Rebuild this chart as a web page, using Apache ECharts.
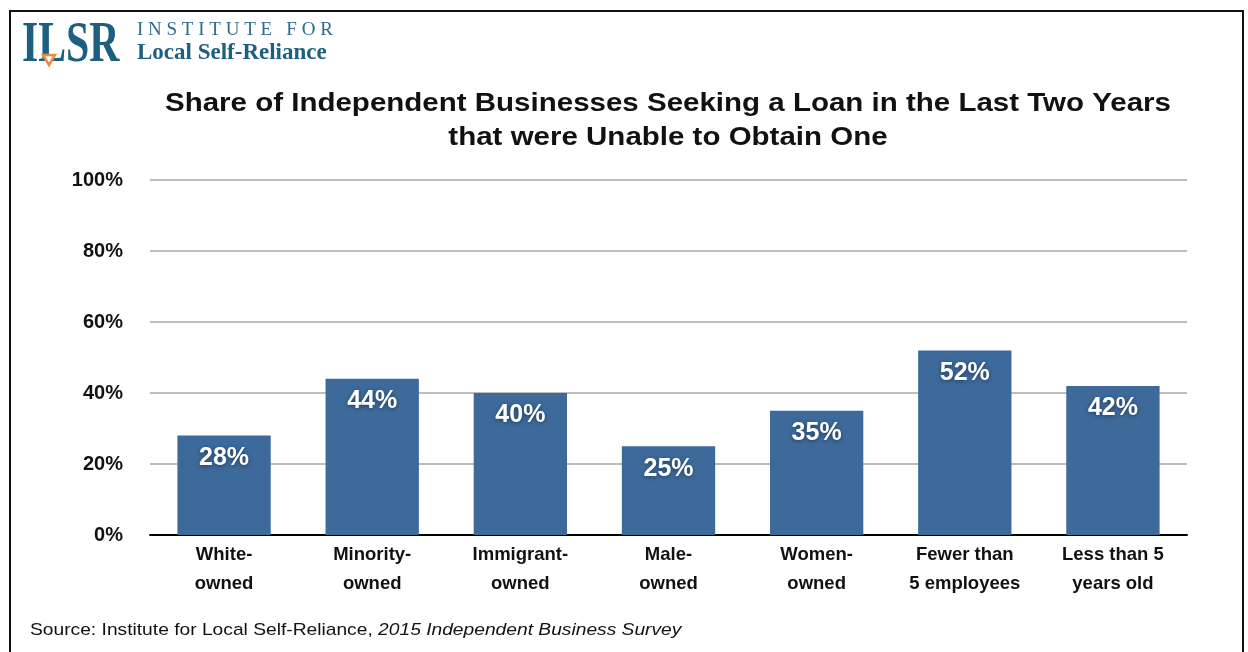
<!DOCTYPE html>
<html>
<head>
<meta charset="utf-8">
<script src="https://cdn.jsdelivr.net/npm/echarts@6/dist/echarts.min.js"></script>
<style>
  html, body { margin: 0; padding: 0; background: #fff; }
  #chart { width: 1248px; height: 652px; }
</style>
</head>
<body>
<div id="chart"></div>
<script>
// Loan denial shares by business type (percent)
const categories = [
  'White-\nowned',
  'Minority-\nowned',
  'Immigrant-\nowned',
  'Male-\nowned',
  'Women-\nowned',
  'Fewer than\n5 employees',
  'Less than 5\nyears old'
];
const unableShares = [28, 44, 40, 25, 35, 52, 42];
const yTicks = [0, 20, 40, 60, 80, 100];

const FONT = '"Liberation Sans", Arial, Helvetica, sans-serif';
const SERIF = '"Liberation Serif", "DejaVu Serif", serif';
const BRAND = '#1d5f80';

const chart = echarts.init(document.getElementById('chart'), null, { renderer: 'canvas' });

chart.setOption({
  animation: false,
  backgroundColor: '#fff',
  grid: { left: 150, right: 61, top: 180, bottom: 117, containLabel: false },
  xAxis: {
    type: 'category',
    data: categories,
    axisLine: { show: true, lineStyle: { color: '#000', width: 2 } },
    axisTick: { show: false },
    axisLabel: {
      fontFamily: FONT,
      fontSize: 18.5,
      fontWeight: 'bold',
      color: '#111',
      lineHeight: 29,
      margin: 5,
      interval: 0
    }
  },
  yAxis: {
    type: 'value',
    min: yTicks[0],
    max: yTicks[yTicks.length - 1],
    interval: 20,
    axisLine: { show: false },
    axisTick: { show: false },
    axisLabel: {
      formatter: '{value}%',
      fontFamily: FONT,
      fontSize: 20,
      fontWeight: 'bold',
      color: '#111',
      margin: 27
    },
    splitLine: { lineStyle: { color: '#bdbdbd', width: 2 } }
  },
  series: [{
    type: 'bar',
    data: unableShares,
    barWidth: '63%',
    itemStyle: { color: '#3d6a9b' },
    label: {
      show: true,
      position: 'insideTop',
      distance: 10,
      formatter: '{c}%',
      fontFamily: FONT,
      fontSize: 25,
      fontWeight: 'bold',
      color: '#fff',
      textShadowColor: 'rgba(0,0,0,0.45)',
      textShadowBlur: 4,
      textShadowOffsetY: 1
    }
  }],
  graphic: [
    // outer frame
    {
      type: 'rect',
      shape: { x: 10, y: 11, width: 1233, height: 660 },
      style: { fill: 'none', stroke: '#111', lineWidth: 2 },
      silent: true
    },
    // chart title (slightly widened lettering)
    {
      type: 'text',
      x: 668, y: 87,
      scaleX: 1.18,
      style: {
        text: 'Share of Independent Businesses Seeking a Loan in the Last Two Years\nthat were Unable to Obtain One',
        fontFamily: FONT,
        fontSize: 25,
        fontWeight: 'bold',
        lineHeight: 34,
        align: 'center',
        fill: '#111'
      }
    },
    // logo mark
    {
      type: 'text',
      x: 22, y: 17,
      scaleX: 0.72,
      style: {
        text: 'ILSR',
        fontFamily: SERIF,
        fontSize: 58,
        fontWeight: 'bold',
        fill: BRAND
      }
    },
    {
      type: 'polygon',
      shape: { points: [[43, 55], [55, 55], [49, 65]] },
      style: { fill: '#fff', stroke: '#ef8a3c', lineWidth: 2.5 }
    },
    {
      type: 'text',
      x: 137, y: 21,
      style: {
        text: 'I N S T I T U T E   F O R',
        fontFamily: SERIF,
        fontSize: 19,
        fill: '#2c6b8a'
      }
    },
    {
      type: 'text',
      x: 137, y: 42,
      style: {
        text: 'Local Self-Reliance',
        fontFamily: SERIF,
        fontSize: 23,
        fontWeight: 'bold',
        fill: BRAND
      }
    },
    // source line
    {
      type: 'text',
      x: 30, y: 622,
      scaleX: 1.13,
      style: {
        text: '{n|Source: Institute for Local Self-Reliance, }{i|2015 Independent Business Survey}',
        rich: {
          n: { fontFamily: FONT, fontSize: 17, fill: '#111' },
          i: { fontFamily: FONT, fontSize: 17, fontStyle: 'italic', fill: '#111' }
        }
      }
    }
  ]
});
</script>
</body>
</html>
